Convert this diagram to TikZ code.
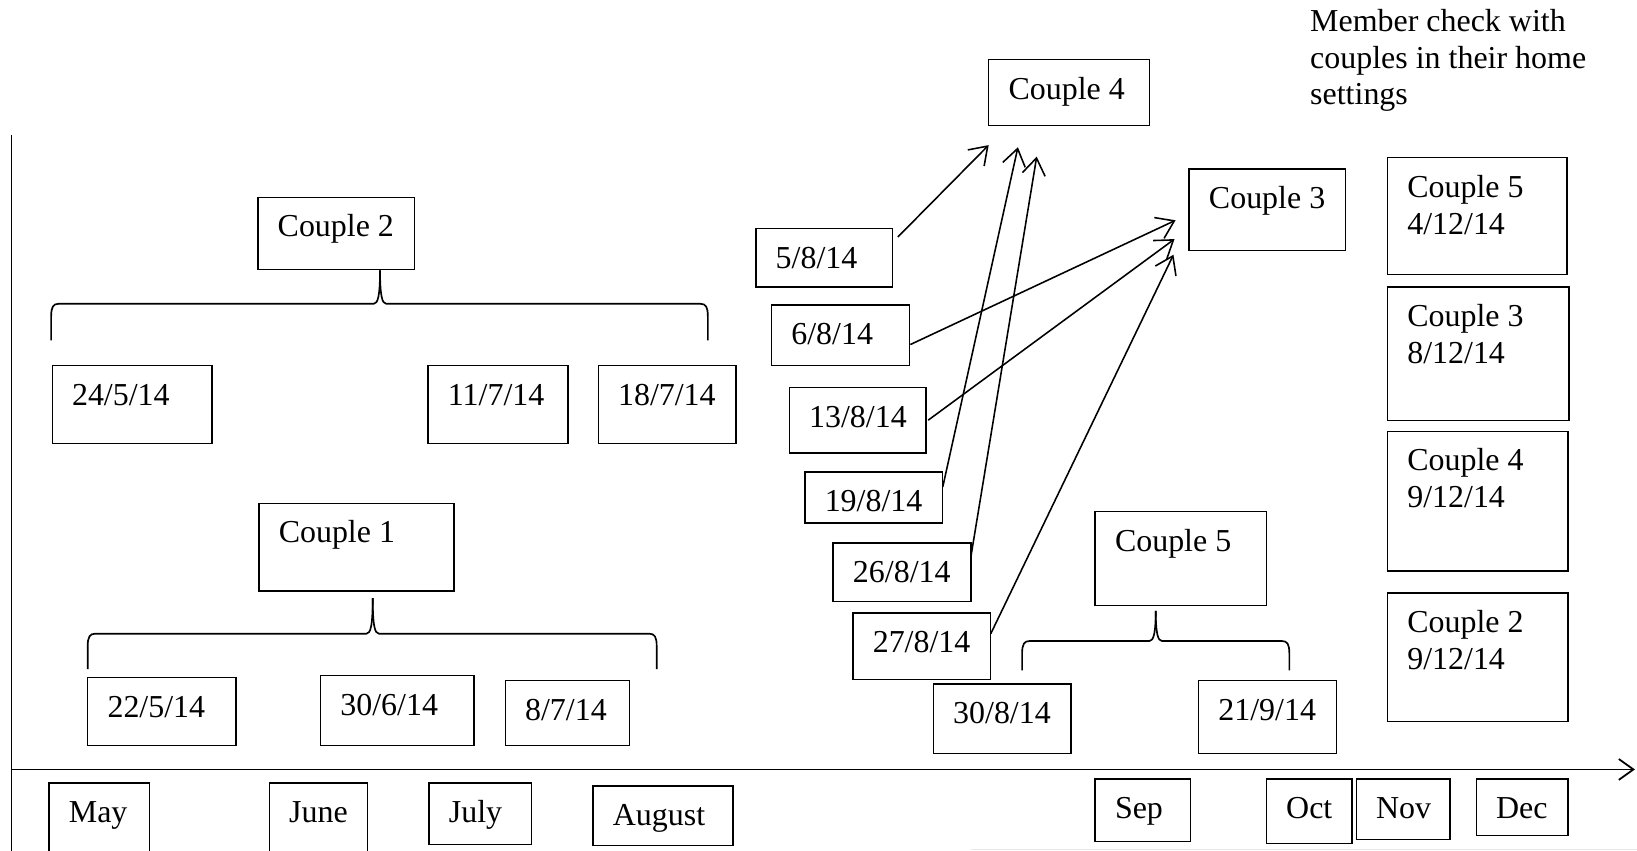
\documentclass[tikz,border=0pt]{standalone}
\usepackage{fontspec}
\setmainfont{Liberation Serif}
\usetikzlibrary{calc,arrows.meta}

\tikzset{
  box/.style={draw, rectangle, line width=0.65pt, inner sep=0pt, outer sep=0pt},
  lbl/.style={inner sep=0pt, outer sep=0pt, anchor=base west,
              font=\fontsize{15.3}{17.75}\selectfont},
  link/.style={line width=0.75pt, -{Straight Barb[length=8pt,width=11pt]}},
  axis/.style={line width=0.85pt},
  bracket/.style={line width=0.8pt, line join=round},
}

% box given by left, top, right, bottom; label set at its upper left
\newcommand\dbox[6]{%
  \node[box, anchor=north west,
        minimum width={(#4-#2)*0.5pt}, minimum height={(#5-#3)*0.5pt}] (#1) at (#2,#3) {};
  \node[lbl] (#1-t) at ($(#1.north west)+(19,38)$) {#6};}
\newcommand\twoline[2]{\vtop{\hbox{#1}\hbox{#2}}}

% curly bracket: left, right, bar height, stem x, stem top, foot
\newcommand\cbrace[6]{%
  \draw[bracket] (#1,#6) -- (#1,#3+12) .. controls (#1,#3+3) and (#1+2,#3) .. (#1+7,#3)
     -- (#4-6,#3) .. controls (#4-2,#3) and (#4,#3-8) .. (#4,#5);
  \draw[bracket] (#2,#6) -- (#2,#3+12) .. controls (#2,#3+3) and (#2-2,#3) .. (#2-7,#3)
     -- (#4+6,#3) .. controls (#4+2,#3) and (#4,#3-8) .. (#4,#5);}

\begin{document}
\begin{tikzpicture}[x=0.5pt,y=-0.5pt]
\useasboundingbox (0,0) rectangle (1568,815);
\clip (0,0) rectangle (1568,815);

% timeline
\coordinate (vtop) at (11,129);
\coordinate (vbot) at (11,830);
\coordinate (orig) at (11,737);
\coordinate (tend) at (1566,737);
\draw[axis] (vtop) -- (vbot);
\draw[axis, -{Straight Barb[length=7pt,width=10pt]}] (orig) -- (tend);
\coordinate (seamL) at (930,814);
\coordinate (seamR) at (1568,814);
\draw[gray!18, line width=0.6pt] (seamL) -- (seamR);

% months
\dbox{may}{47}{750}{143}{830}{May}
\dbox{jun}{258}{750}{352}{830}{June}
\dbox{jul}{411}{750}{509}{809}{July}
\dbox{aug}{568}{753}{702}{810}{August}
\dbox{sep}{1049}{746}{1140}{806}{Sep}
\dbox{oct}{1213}{746}{1295}{808}{Oct}
\dbox{nov}{1299}{746}{1389}{804}{Nov}
\dbox{dec}{1414}{746}{1502}{800}{Dec}

% couple 2
\dbox{c2}{247}{189}{397}{258}{Couple 2}
\dbox{d2405}{50}{350}{203}{425}{24/5/14}
\dbox{d1107}{410}{350}{544}{425}{11/7/14}
\dbox{d1807}{573}{350}{705}{425}{18/7/14}
\cbrace{49}{678}{291}{364}{259}{326}

% couple 1
\dbox{c1}{248}{482}{435}{566}{Couple 1}
\dbox{d2205}{84}{649}{226}{714}{22/5/14}
\dbox{d3006}{307}{647}{454}{714}{30/6/14}
\dbox{d0807}{484}{652}{603}{714}{8/7/14}
\cbrace{84}{629}{607}{357}{573}{641}

% couples 3 and 4
\dbox{c4}{947}{57}{1101}{120}{Couple 4}
\dbox{c3}{1139}{162}{1289}{240}{Couple 3}
\dbox{d0508}{724}{219}{855}{275}{5/8/14}
\dbox{d0608}{739}{292}{871}{350}{6/8/14}
\dbox{d1308}{756}{371}{887}{434}{13/8/14}
\dbox{d1908}{771}{452}{903}{501}{19/8/14}
\dbox{d2608}{798}{520}{930}{576}{26/8/14}
\dbox{d2708}{817}{587}{949}{651}{27/8/14}

\coordinate (c4a) at (947,139);
\coordinate (c4b) at (975,141);
\coordinate (c4c) at (993,150);
\coordinate (c3a) at (1126,211);
\coordinate (c3b) at (1125,229);
\coordinate (c3c) at (1124,244);
\draw[link] ($(d0508.north east)+(5,8)$) -- (c4a);
\draw[link] ($(d1908.east)+(0,-10)$) -- (c4b);
\draw[link] ($(d2608.east)+(0,-15)$) -- (c4c);
\draw[link] ($(d0608.east)+(1,9)$) -- (c3a);
\draw[link] ($(d1308.east)+(2,0)$) -- (c3b);
\draw[link] ($(d2708.east)+(0,-12)$) -- (c3c);

% couple 5
\dbox{c5}{1049}{490}{1213}{580}{Couple 5}
\dbox{d3008}{894}{655}{1026}{722}{30/8/14}
\dbox{d2109}{1148}{652}{1280}{722}{21/9/14}
\cbrace{979}{1235}{614}{1107}{585}{642}

% member check column
\node[lbl] (member) at (1255,30)
  {\vtop{\baselineskip=17.6pt\hbox{Member check with}\hbox{couples in their home}\hbox{settings}}};
\dbox{m5}{1329}{151}{1501}{263}{\twoline{Couple 5}{4/12/14}}
\dbox{m3}{1329}{275}{1503}{403}{\twoline{Couple 3}{8/12/14}}
\dbox{m4}{1329}{413}{1502}{547}{\twoline{Couple 4}{9/12/14}}
\dbox{m2}{1329}{568}{1502}{691}{\twoline{Couple 2}{9/12/14}}
\end{tikzpicture}
\end{document}
